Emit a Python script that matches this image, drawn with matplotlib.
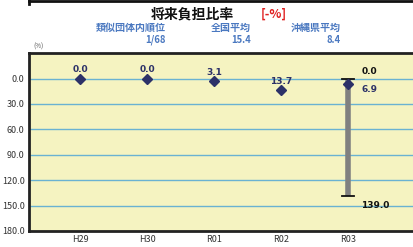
import matplotlib
matplotlib.use("Agg")
import matplotlib.pyplot as plt
from matplotlib.lines import Line2D

plt.rcParams['font.family'] = ['Noto Sans CJK JP', 'DejaVu Sans']

categories = ["H29", "H30", "R01", "R02", "R03"]
values = [0.0, 0.0, 3.1, 13.7, 6.9]
value_labels = ["0.0", "0.0", "3.1", "13.7", "6.9"]
range_min = 0.0
range_max = 139.0
yticks = [0, 30, 60, 90, 120, 150, 180]
title = "将来負担比率"
unit = "[-%]"
info_heads = ["類似団体内順位", "全国平均", "沖縄県平均"]
info_vals = ["1/68", "15.4", "8.4"]

fig = plt.figure(figsize=(4.13, 2.47), dpi=100)
ax = fig.add_axes([0.070, 0.065, 0.935, 0.72])
ax.set_facecolor("#F5F3C1")
x = list(range(len(categories)))
ax.set_xlim(-0.77, 5.0)
ax.set_ylim(180, -30)
ax.set_yticks(yticks)
ax.set_yticklabels([f"{v:.1f}" for v in yticks], fontsize=6.5, color="#333333")
ax.set_xticks(x)
ax.set_xticklabels(categories, fontsize=6.5, color="#333333")
ax.tick_params(length=0, pad=3)
for y in yticks[:-1]:
    ax.axhline(y, color="#6AB2D2", lw=1.0, zorder=1)
for s in ax.spines.values():
    s.set_linewidth(2.0)
    s.set_color("#222222")

navy = "#2C3168"
# range bar for last year
i = len(categories) - 1
ax.plot([i, i], [range_min, range_max], color="#808080", lw=4, zorder=2, solid_capstyle="butt")
ax.plot([i - 0.09, i + 0.09], [range_min, range_min], color="#111111", lw=1.3, zorder=3)
ax.plot([i - 0.09, i + 0.09], [range_max, range_max], color="#111111", lw=1.3, zorder=3)
ax.text(i + 0.2, range_min - 3, f"{range_min:.1f}", fontsize=6.5, fontweight="bold",
        color="#111111", ha="left", va="bottom", family="DejaVu Sans")
ax.text(i + 0.2, range_max + 11, f"{range_max:.1f}", fontsize=6.5, fontweight="bold",
        color="#111111", ha="left", va="center", family="DejaVu Sans")

ax.plot(x, values, linestyle="none", marker="D", markersize=5.5, color=navy, zorder=4)
for xi, v, lab in zip(x[:-1], values[:-1], value_labels[:-1]):
    ax.text(xi, v - 5, lab, fontsize=6.5, fontweight="bold", color=navy,
            ha="center", va="bottom", family="DejaVu Sans")
ax.text(i + 0.2, values[-1] + 6, value_labels[-1], fontsize=6.5, fontweight="bold",
        color=navy, ha="left", va="center", family="DejaVu Sans")

# header
fig.text(192 / 413, 1 - 14 / 247, title, fontsize=10, fontweight="bold", color="#111111",
         ha="center", va="center")
fig.text(274 / 413, 1 - 14 / 247, unit, fontsize=9, fontweight="bold", color="#E02020",
         ha="center", va="center")
blue = "#4A78C0"
for xr, h, v in zip([166, 251, 341], info_heads, info_vals):
    fig.text(xr / 413, 1 - 28 / 247, h, fontsize=7.2, fontweight="bold", style="italic",
             color=blue, ha="right", va="center")
    fig.text(xr / 413, 1 - 40 / 247, v, fontsize=6.8, fontweight="bold", style="italic",
             color=blue, ha="right", va="center")
fig.text(33 / 413, 1 - 47 / 247, "(%)", fontsize=4.5, color="#555555", ha="left", va="center")

# top frame fragment
fig.add_artist(Line2D([29 / 413, 1], [1 - 1 / 247, 1 - 1 / 247], color="#111111", lw=2))
fig.add_artist(Line2D([29 / 413, 29 / 413], [1, 1 - 4 / 247], color="#111111", lw=2))

fig.savefig("out.png", dpi=100)
